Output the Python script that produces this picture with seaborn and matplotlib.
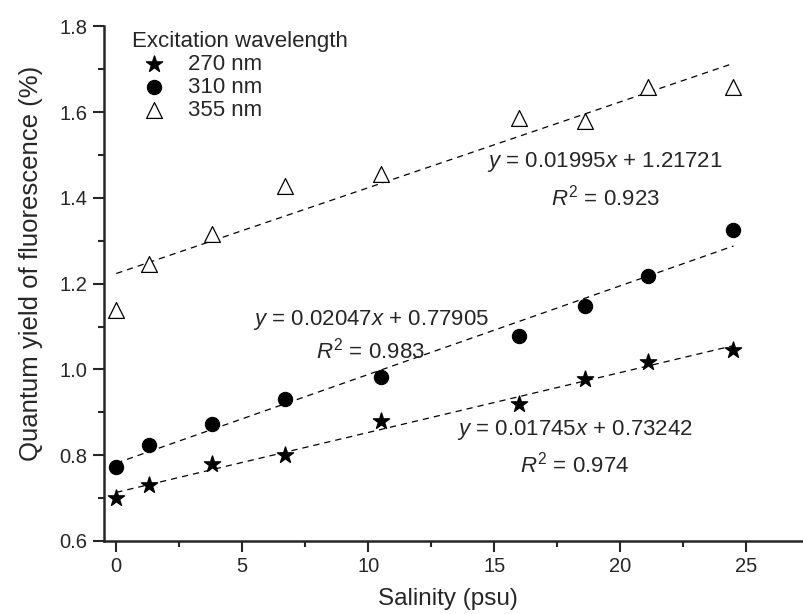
import numpy as np
import pandas as pd
import seaborn as sns
import matplotlib.pyplot as plt
from matplotlib.ticker import MultipleLocator

# salinity (psu) and quantum yield (%) per excitation wavelength
salinity = [0, 1.3, 3.8, 6.7, 10.5, 16.0, 18.6, 21.1, 24.5]
qy_270 = [0.70, 0.73, 0.78, 0.80, 0.88, 0.92, 0.977, 1.018, 1.046]
qy_310 = [0.772, 0.824, 0.873, 0.932, 0.983, 1.079, 1.147, 1.217, 1.325]
qy_355 = [1.138, 1.246, 1.316, 1.428, 1.455, 1.586, 1.579, 1.658, 1.658]

series_labels = ["270 nm", "310 nm", "355 nm"]
# fit equations as printed on the figure
eq_slopes = ["0.01745", "0.02047", "0.01995"]
eq_intercepts = ["0.73242", "0.77905", "1.21721"]
eq_r2 = ["0.974", "0.983", "0.923"]

df = pd.DataFrame({
    "salinity": salinity * 3,
    "qy": qy_270 + qy_310 + qy_355,
    "wl": np.repeat(series_labels, len(salinity)),
})

sns.set_style("ticks")
plt.rcParams['font.family'] = ['Liberation Sans', 'DejaVu Sans']
plt.rcParams['mathtext.fontset'] = 'custom'
plt.rcParams['mathtext.it'] = 'Liberation Sans:italic'
plt.rcParams['mathtext.rm'] = 'Liberation Sans'

fig = plt.figure(figsize=(8.04, 6.14), dpi=100)
ax = fig.add_axes([0.129, 0.119, 0.871, 0.838])

styles = {
    "270 nm": dict(marker="*", s=150, color="black", edgecolor="black"),
    "310 nm": dict(marker="o", s=105, color="black", edgecolor="black"),
    "355 nm": dict(marker="^", s=130, color="white", edgecolor="black", linewidth=0.9),
}
for lab in series_labels:
    sub = df[df["wl"] == lab]
    # dashed linear fit over the measured range
    sns.regplot(data=sub, x="salinity", y="qy", ax=ax, scatter=False, ci=None,
                color="black", truncate=True,
                line_kws=dict(linestyle=(0, (5, 4)), linewidth=0.9))
    sns.scatterplot(data=sub, x="salinity", y="qy", ax=ax, label=lab, zorder=3,
                    **styles[lab])

# equations
eq_pos = [(18.2, 0.859, 0.778), (10.1, 1.116, 1.044), (19.4, 1.483, 1.401)]
for (xt, y1, y2), m, b, r2 in zip(eq_pos, eq_slopes, eq_intercepts, eq_r2):
    ax.text(xt, y1, rf"$y$ = {m}$x$ + {b}", ha="center", va="center",
            fontsize=16)
    ax.text(xt, y2, rf"$R^2$ = {r2}", ha="center", va="center", fontsize=16)

ax.set_xlim(-0.5, 27.3)
ax.set_ylim(0.6, 1.8)
ax.xaxis.set_major_locator(MultipleLocator(5))
ax.xaxis.set_minor_locator(MultipleLocator(2.5))
ax.yaxis.set_minor_locator(MultipleLocator(0.1))
ax.set_yticks([0.6, 0.8, 1.0, 1.2, 1.4, 1.6, 1.8])
ax.set_yticklabels(["0.6", "0.8", "1.0", "1.2", "1.4", "1.6", "1.8"])
ax.tick_params(which="major", direction="out", length=8, width=1.5, labelsize=14.5)
ax.tick_params(which="minor", direction="out", length=4, width=1.5)
ax.spines["top"].set_visible(False)
ax.spines["right"].set_visible(False)
ax.spines["left"].set_linewidth(1.8)
ax.spines["bottom"].set_linewidth(1.8)

ax.set_xlabel("Salinity (psu)", fontsize=17.5)
ax.set_ylabel("Quantum yield of fluorescence (%)", fontsize=18.5)
ax.xaxis.set_label_coords(0.491, -0.092)
ax.yaxis.set_label_coords(-0.087, 0.54)

leg = ax.legend(title="Excitation wavelength", loc="upper left", frameon=False,
                fontsize=16, title_fontsize=16, alignment="left",
                handletextpad=0.5, labelspacing=0.08, borderaxespad=0.0,
                bbox_to_anchor=(0.028, 1.008))

plt.savefig("out.png", dpi=100)
plt.close()
